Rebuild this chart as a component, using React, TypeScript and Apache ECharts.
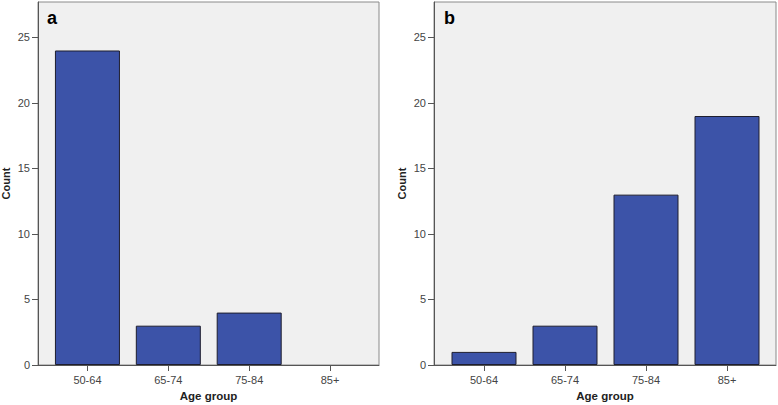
import React, { useEffect, useRef } from "react";
import * as echarts from "echarts";

const categories = ["50-64", "65-74", "75-84", "85+"];
const countsA = [24, 3, 4, 0];
const countsB = [1, 3, 13, 19];
const panelLabels = ["a", "b"];
const yMax = 27.7;
const yInterval = 5;

const FONT = "'Liberation Sans', Arial, sans-serif";
const BAR = "#3c53a8";
const AXIS = "#555555";

export default function App() {
  const ref = useRef<HTMLDivElement>(null);
  useEffect(() => {
    if (!ref.current) return;
    const chart = echarts.init(ref.current, null, { renderer: "svg" });
    const frames = [
      { left: 38, right: 778 - 379 },
      { left: 434, right: 778 - 776 },
    ];
    const inner = [
      { left: 47, right: 778 - 370.5 },
      { left: 443.5, right: 778 - 767.5 },
    ];
    const top = 2;
    const bottom = 405 - 365;
    const grids: any[] = [];
    const xAxes: any[] = [];
    const yAxes: any[] = [];
    const series: any[] = [];
    const data = [countsA, countsB];
    for (let p = 0; p < 2; p++) {
      grids.push({
        left: frames[p].left,
        right: frames[p].right,
        top,
        bottom,
        show: true,
        backgroundColor: "#f0f0f0",
        borderColor: "#8a8a8a",
        borderWidth: 1,
        containLabel: false,
        outerBoundsMode: "none",
      });
      grids.push({
        left: inner[p].left,
        right: inner[p].right,
        top,
        bottom,
        containLabel: false,
        outerBoundsMode: "none",
      });
      const fg = p * 2;
      const ig = p * 2 + 1;
      xAxes.push({
        type: "value",
        gridIndex: fg,
        min: 0,
        max: 1,
        axisLine: { show: true, lineStyle: { color: AXIS, width: 1 } },
        axisTick: { show: false },
        axisLabel: { show: false },
        splitLine: { show: false },
        name: "Age group",
        nameLocation: "middle",
        nameGap: 25,
        nameTextStyle: { fontFamily: FONT, fontWeight: "bold", fontSize: 11.5, color: "#222" },
      });
      xAxes.push({
        type: "category",
        gridIndex: ig,
        data: categories,
        boundaryGap: true,
        axisLine: { show: false },
        axisTick: { show: true, alignWithLabel: true, length: 6, lineStyle: { color: AXIS } },
        axisLabel: { fontFamily: FONT, fontSize: 11, color: "#444", margin: 9 },
      });
      yAxes.push({
        type: "value",
        gridIndex: fg,
        min: 0,
        max: yMax,
        interval: yInterval,
        axisLine: { show: true, lineStyle: { color: AXIS } },
        axisTick: { show: true, length: 6, lineStyle: { color: AXIS } },
        axisLabel: { fontFamily: FONT, fontSize: 11, color: "#444", margin: 8, showMaxLabel: false },
        splitLine: { show: false },
        name: "Count",
        nameLocation: "middle",
        nameGap: 27,
        nameRotate: 90,
        nameTextStyle: { fontFamily: FONT, fontWeight: "bold", fontSize: 11, color: "#222" },
      });
      yAxes.push({
        type: "value",
        gridIndex: ig,
        min: 0,
        max: yMax,
        interval: yInterval,
        show: false,
        splitLine: { show: false },
      });
      series.push({
        type: "bar",
        xAxisIndex: ig,
        yAxisIndex: ig,
        data: data[p].map((v) => ({
          value: v,
          itemStyle: v === 0 ? { borderWidth: 0, opacity: 0 } : undefined,
        })),
        barWidth: 65,
        itemStyle: { color: BAR, borderColor: "#1e1e2e", borderWidth: 1 },
        z: 3,
      });
    }
    chart.setOption({
      animation: false,
      backgroundColor: "#ffffff",
      grid: grids,
      xAxis: xAxes,
      yAxis: yAxes,
      series,
      graphic: [
        {
          type: "text",
          left: 47,
          top: 9,
          style: { text: panelLabels[0], font: `bold 18px ${FONT}`, fill: "#000" },
        },
        {
          type: "text",
          left: 444,
          top: 9,
          style: { text: panelLabels[1], font: `bold 18px ${FONT}`, fill: "#000" },
        },
      ],
    });
    return () => chart.dispose();
  }, []);
  return (
    <div
      ref={ref}
      style={{ position: "fixed", left: 0, top: 0, width: 778, height: 405 }}
    />
  );
}
